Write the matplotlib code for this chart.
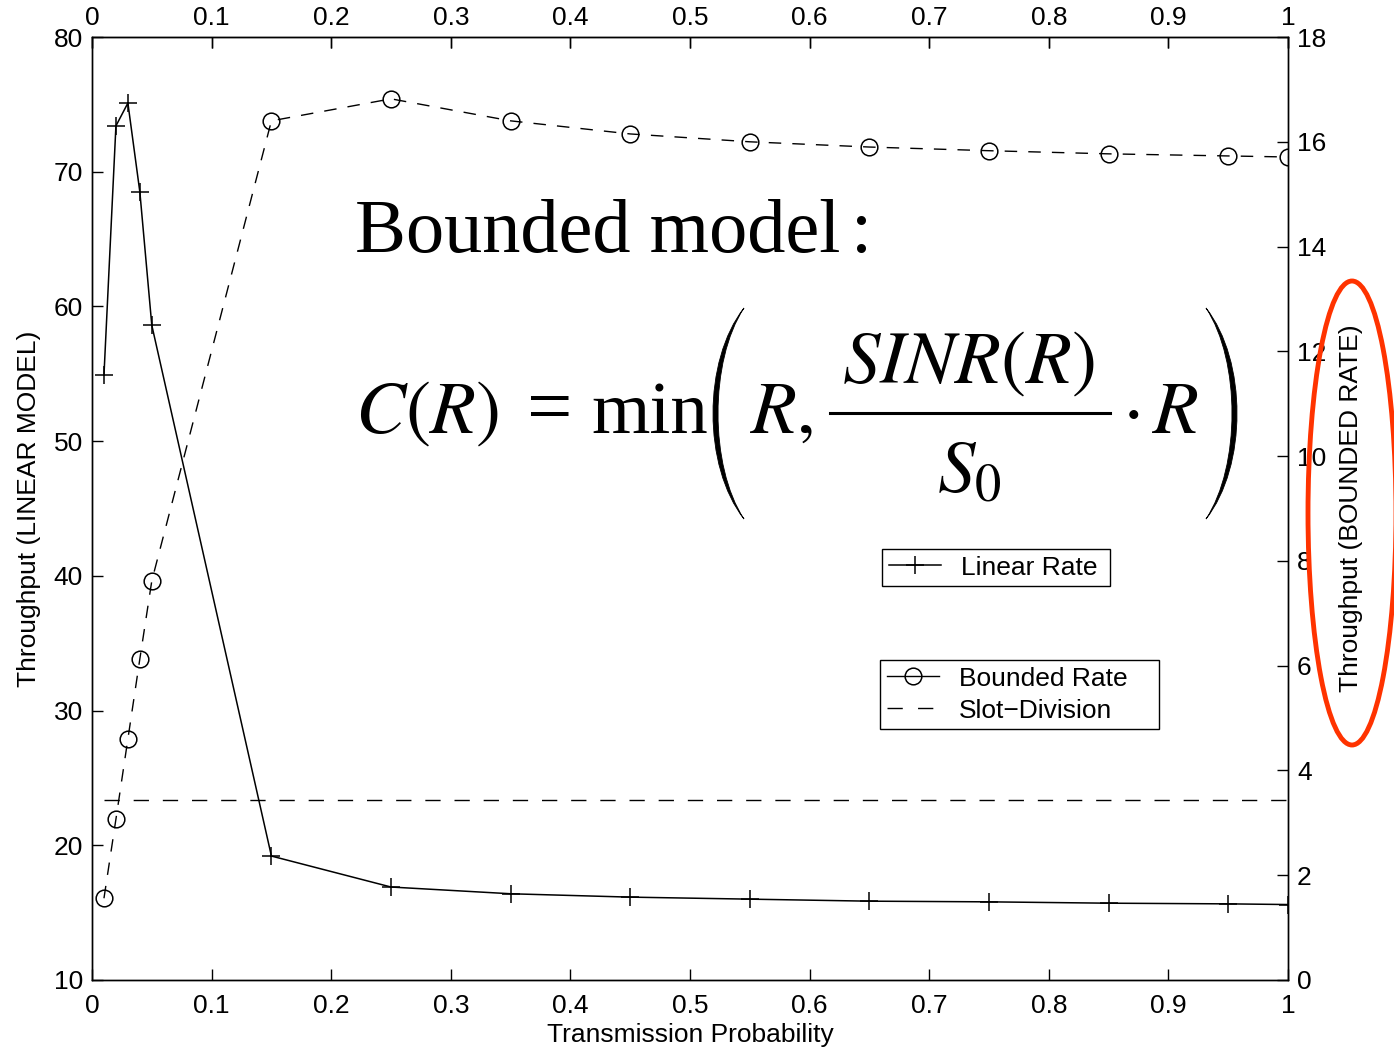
import matplotlib.pyplot as plt
from matplotlib.lines import Line2D
from matplotlib.patches import Ellipse, PathPatch
from matplotlib.path import Path
from matplotlib.ticker import FuncFormatter
import numpy as np

plt.rcParams["font.family"] = ["Liberation Sans", "DejaVu Sans"]
plt.rcParams["mathtext.fontset"] = "stix"

W, H = 1394, 1049

# transmission probability
prob = [0.01, 0.02, 0.03, 0.04, 0.05, 0.15, 0.25, 0.35, 0.45, 0.55, 0.65, 0.75, 0.85, 0.95, 1.0]
# throughput, linear model (left axis)
linear_rate = [54.9, 73.4, 75.1, 68.5, 58.6, 19.2, 16.9, 16.4, 16.15, 16.0, 15.85, 15.8, 15.7, 15.65, 15.6]
# throughput, bounded model (right axis)
bounded_rate = [1.56, 3.07, 4.6, 6.13, 7.62, 16.4, 16.82, 16.4, 16.15, 16.0, 15.9, 15.83, 15.77, 15.73, 15.71]
# slot division level (right axis)
slot_x = [0.01, 1.0]
slot_level = 3.44


def fx(px):
    return px / W


def fy(py):
    return 1 - py / H


fig = plt.figure(figsize=(W / 100, H / 100), dpi=100)
ax = fig.add_axes([0.066, 0.0658, 0.858, 0.8989])
ax2 = ax.twinx()

fmt = FuncFormatter(lambda v, p: f"{v:g}")

ax.plot(prob, linear_rate, color="black", lw=1.1, marker="+", markersize=13, markeredgewidth=1.1)
ax.set_xlim(0, 1)
ax.set_ylim(10, 80)
ax.set_xticks(np.arange(0, 1.01, 0.1))
ax.xaxis.set_major_formatter(fmt)
ax.set_yticks(range(10, 81, 10))
ax.tick_params(axis="x", direction="in", length=8, width=1, labelsize=19, pad=10, top=True)
ax.tick_params(axis="y", direction="in", length=8, width=1, labelsize=19, pad=6.5)
ax.set_xlabel("Transmission Probability", fontsize=19, labelpad=4)
ax.set_ylabel("Throughput (LINEAR MODEL)", fontsize=19, labelpad=9)

top = ax.secondary_xaxis("top")
top.set_xticks(np.arange(0, 1.01, 0.1))
top.xaxis.set_major_formatter(fmt)
top.tick_params(direction="in", length=8, width=1, labelsize=19, pad=5)

ax2.plot(prob, bounded_rate, color="black", lw=1, ls=(0, (9, 8)), marker="o",
         markersize=12, markerfacecolor="none", markeredgewidth=1.1)
ax2.plot(slot_x, [slot_level, slot_level], color="black", lw=1, ls=(0, (11, 10)))
ax2.set_ylim(0, 18)
ax2.set_yticks(range(0, 19, 2))
ax2.tick_params(direction="in", length=8, width=1, labelsize=19, pad=6.5)
ax2.set_ylabel("Throughput (BOUNDED RATE)", fontsize=19, rotation=90, labelpad=9)

for a in (ax, ax2):
    for s in a.spines.values():
        s.set_linewidth(1)

# legends
h1 = [Line2D([], [], color="black", lw=1.1, marker="+", markersize=13, markeredgewidth=1.1)]
fig.legend(h1, ["Linear Rate"], loc="upper left",
           bbox_to_anchor=(fx(882), fy(586), fx(1110) - fx(882), fy(549) - fy(586)),
           mode="expand", fontsize=19, fancybox=False, edgecolor="black", framealpha=1,
           handlelength=2.0, borderpad=0.25, handletextpad=0.75, borderaxespad=0)
h2 = [Line2D([], [], color="black", lw=1, marker="o", markersize=12,
             markerfacecolor="none", markeredgewidth=1.1),
      Line2D([], [], color="black", lw=1, ls=(0, (11, 11)))]
fig.legend(h2, ["Bounded Rate", "Slot\u2212Division"], loc="upper left",
           bbox_to_anchor=(fx(880), fy(727), fx(1159) - fx(880), fy(660) - fy(727)),
           mode="expand", fontsize=19, fancybox=False, edgecolor="black", framealpha=1,
           handlelength=2.0, borderpad=0.25, labelspacing=0.3, handletextpad=0.75,
           borderaxespad=0)

# formula annotation
fig.text(fx(355), fy(252), "Bounded model", family="Liberation Serif",
         fontsize=55, va="baseline")
fig.text(fx(851), fy(252), ":", family="Liberation Serif", fontsize=55, va="baseline")
fs = 54
fig.text(fx(355), fy(433), r"$C(R)$", fontsize=fs, va="baseline")
fig.text(fx(527), fy(433), "=", family="Liberation Serif", fontsize=58, va="baseline")
fig.text(fx(591), fy(433), "min", family="Liberation Serif", fontsize=fs, va="baseline")
fig.text(fx(750), fy(433), r"$R,$", fontsize=fs, va="baseline")
fig.text(fx(968), fy(383), r"$SINR(R)$", fontsize=fs, va="baseline", ha="center")
fig.text(fx(937), fy(493), r"$S_0$", fontsize=fs, va="baseline")
fig.text(fx(1122), fy(433), r"$\cdot\,R$", fontsize=fs, va="baseline")
fig.add_artist(Line2D([fx(830), fx(1110)], [fy(413), fy(413)], color="black", lw=2.2,
                      transform=fig.transFigure))


def paren(x_end, x_mid_out, x_mid_in, y_top, y_bot):
    yc1 = y_top + (y_bot - y_top) * 0.25
    yc2 = y_top + (y_bot - y_top) * 0.75
    co = x_end + (x_mid_out - x_end) * 4 / 3
    ci = x_end + (x_mid_in - x_end) * 4 / 3
    verts = [(x_end, y_top), (co, yc1), (co, yc2), (x_end, y_bot),
             (ci, yc2), (ci, yc1), (x_end, y_top), (x_end, y_top)]
    verts = [(fx(a), fy(b)) for a, b in verts]
    codes = [Path.MOVETO, Path.CURVE4, Path.CURVE4, Path.CURVE4,
             Path.CURVE4, Path.CURVE4, Path.CURVE4, Path.CLOSEPOLY]
    return PathPatch(Path(verts, codes), facecolor="black", edgecolor="black", lw=0.6,
                     transform=fig.transFigure)


fig.add_artist(paren(744, 713, 718, 308, 519))
fig.add_artist(paren(1206, 1237, 1232, 308, 519))

fig.add_artist(Ellipse((fx(1352), fy(513)), fx(88), 464 / H, transform=fig.transFigure,
                       fill=False, edgecolor="#ff3300", lw=3.5, clip_on=False))

fig.savefig("out.png", dpi=100)
